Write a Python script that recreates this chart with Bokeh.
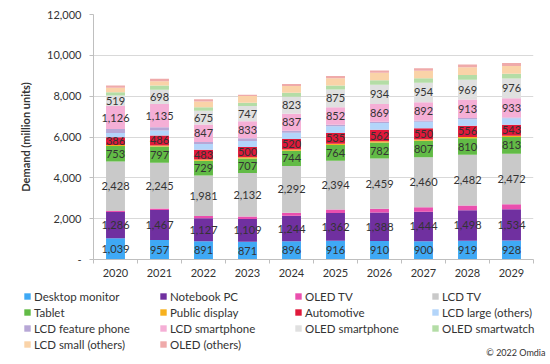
import numpy as np
from bokeh.plotting import figure
from bokeh.layouts import column
from bokeh.models import (ColumnDataSource, FixedTicker, Legend, LegendItem, Label,
                          NumeralTickFormatter, Range1d)
from bokeh.embed import file_html
from bokeh.resources import INLINE
from bokeh.core.properties import value

years = ["2020", "2021", "2022", "2023", "2024", "2025", "2026", "2027", "2028", "2029"]

desktop_monitor = [1039, 957, 891, 871, 896, 916, 910, 900, 919, 928]
notebook_pc = [1286, 1467, 1127, 1109, 1244, 1362, 1388, 1444, 1498, 1534]
oled_tv = [50, 70, 110, 130, 150, 170, 190, 210, 230, 250]
lcd_tv = [2428, 2245, 1981, 2132, 2292, 2394, 2459, 2460, 2482, 2472]
tablet = [753, 797, 729, 707, 744, 764, 782, 807, 810, 813]
public_display = [50, 50, 60, 60, 60, 60, 60, 60, 60, 60]
automotive = [386, 486, 483, 500, 520, 535, 562, 550, 556, 543]
lcd_large = [200, 250, 280, 300, 300, 320, 330, 320, 320, 320]
lcd_feature_phone = [200, 160, 100, 130, 100, 80, 70, 60, 50, 40]
lcd_smartphone = [1126, 1135, 847, 833, 837, 852, 869, 892, 913, 933]
oled_smartphone = [519, 698, 675, 747, 823, 875, 934, 954, 969, 976]
oled_smartwatch = [150, 210, 180, 160, 200, 200, 220, 220, 230, 230]
lcd_small = [230, 210, 280, 330, 330, 350, 370, 370, 380, 380]
oled_others = [100, 115, 100, 60, 100, 110, 110, 120, 130, 140]

series_names = ["Desktop monitor", "Notebook PC", "OLED TV", "LCD TV", "Tablet",
                "Public display", "Automotive", "LCD large (others)", "LCD feature phone",
                "LCD smartphone", "OLED smartphone", "OLED smartwatch",
                "LCD small (others)", "OLED (others)"]
series_values = [desktop_monitor, notebook_pc, oled_tv, lcd_tv, tablet, public_display,
                 automotive, lcd_large, lcd_feature_phone, lcd_smartphone,
                 oled_smartphone, oled_smartwatch, lcd_small, oled_others]
colors = ["#3FA9F5", "#7030A0", "#EA4FAE", "#C9C9C9", "#62BB46", "#F7B11E",
          "#E0193A", "#B3D5FA", "#B7A7D6", "#F5AFD6", "#E0E0E0", "#B4DDA6",
          "#FAD3A8", "#EFAAAA"]
labelled = ["Desktop monitor", "Notebook PC", "LCD TV", "Tablet", "Automotive",
            "LCD smartphone", "OLED smartphone"]

FONT = "Lato"
TXT = "#333333"

xs = np.arange(len(years)) + 0.5
data = {"x": xs}
for n, v in zip(series_names, series_values):
    data[n] = v
source = ColumnDataSource(data)

p = figure(width=550, height=282, output_backend="svg", toolbar_location=None,
           x_range=Range1d(0, len(years)), y_range=Range1d(0, 12000),
           min_border_left=93, min_border_right=17, min_border_top=14,
           min_border_bottom=23, title=None)
p.outline_line_color = None
p.frame_align = False

renderers = p.vbar_stack(series_names, x="x", width=0.43, color=colors,
                         line_color=None, source=source)

# data labels
lx, ly, lt = [], [], []
cum = np.zeros(len(years))
for n, v in zip(series_names, series_values):
    v = np.array(v, dtype=float)
    if n in labelled:
        for i in range(len(years)):
            lx.append(xs[i])
            ly.append(cum[i] + v[i] / 2)
            lt.append("{:,}".format(int(v[i])))
    cum += v
p.text(x=lx, y=ly, text=lt, text_align="center", text_baseline="middle",
       text_font=value(FONT), text_font_size="11px", text_color=TXT)

# axes
xa = p.xaxis[0]
xa.ticker = FixedTicker(ticks=list(xs), minor_ticks=list(range(len(years) + 1)))
xa.major_label_overrides = {float(c): y for c, y in zip(xs, years)}
xa.major_tick_out = 0
xa.major_tick_in = 0
xa.minor_tick_out = 4
xa.minor_tick_in = 0
xa.minor_tick_line_color = "#BFBFBF"
xa.axis_line_color = "#BFBFBF"
xa.major_label_standoff = 5
xa.major_label_text_font = FONT
xa.major_label_text_font_size = "11px"
xa.major_label_text_color = TXT

ya = p.yaxis[0]
ya.ticker = FixedTicker(ticks=list(range(0, 12001, 2000)))
ya.formatter = NumeralTickFormatter(format="0,0")
ya.major_label_overrides = {0: "-"}
ya.major_tick_out = 4
ya.major_tick_in = 0
ya.minor_tick_line_color = None
ya.major_tick_line_color = "#BFBFBF"
ya.axis_line_color = "#BFBFBF"
ya.major_label_standoff = 8
ya.major_label_text_font = FONT
ya.major_label_text_font_size = "11px"
ya.major_label_text_color = TXT
ya.axis_label = "Demand (million units)"
ya.axis_label_text_font = FONT
ya.axis_label_text_font_size = "11px"
ya.axis_label_text_font_style = "bold"
ya.axis_label_text_color = TXT
ya.axis_label_standoff = 12

p.xgrid.grid_line_color = None
p.ygrid.grid_line_color = "#D9D9D9"
p.ygrid.ticker = FixedTicker(ticks=list(range(0, 12001, 2000)))

# legend figure below the chart (legend-only swatch renderers, zero height, off view)
pl = figure(width=550, height=82, output_backend="svg", toolbar_location=None,
            x_range=Range1d(0, 1), y_range=Range1d(0, 1),
            x_axis_location=None, y_axis_location=None, title=None,
            min_border_left=0, min_border_right=0, min_border_top=0,
            min_border_bottom=0)
pl.outline_line_color = None
pl.frame_align = False
pl.xgrid.visible = False
pl.ygrid.visible = False
swatch_src = ColumnDataSource({"x": [-10.0], **{n: [0.0] for n in series_names}})
swatches = pl.vbar_stack(series_names, x="x", width=0.43, color=colors,
                         line_color=None, source=swatch_src)

idx = {n: i for i, n in enumerate(series_names)}
columns = [
    (["Desktop monitor", "Tablet", "LCD feature phone", "LCD small (others)"], 23, 13),
    (["Notebook PC", "Public display", "LCD smartphone", "OLED (others)"], 159, 13),
    (["OLED TV", "Automotive", "OLED smartphone"], 294, 29),
    (["LCD TV", "LCD large (others)", "OLED smartwatch"], 431, 29),
]
for names, lxp, lyp in columns:
    items = [LegendItem(label=n, renderers=[swatches[idx[n]]]) for n in names]
    leg = Legend(items=items, location=(lxp, lyp), orientation="vertical",
                 glyph_width=8, glyph_height=8, label_height=14, spacing=2,
                 label_standoff=3, padding=0, margin=0,
                 border_line_color=None, background_fill_alpha=0,
                 label_text_font=FONT, label_text_font_size="11.5px",
                 label_text_color=TXT)
    pl.add_layout(leg, "center")

cp = Label(x=545, y=12, x_units="screen", y_units="screen", text="\u00a9 2022 Omdia",
           text_align="right", text_baseline="middle", text_font=FONT,
           text_font_size="9px", text_color=TXT)
pl.add_layout(cp)

layout = column(p, pl, spacing=0)
open("out.html", "w").write(file_html(layout, INLINE))
